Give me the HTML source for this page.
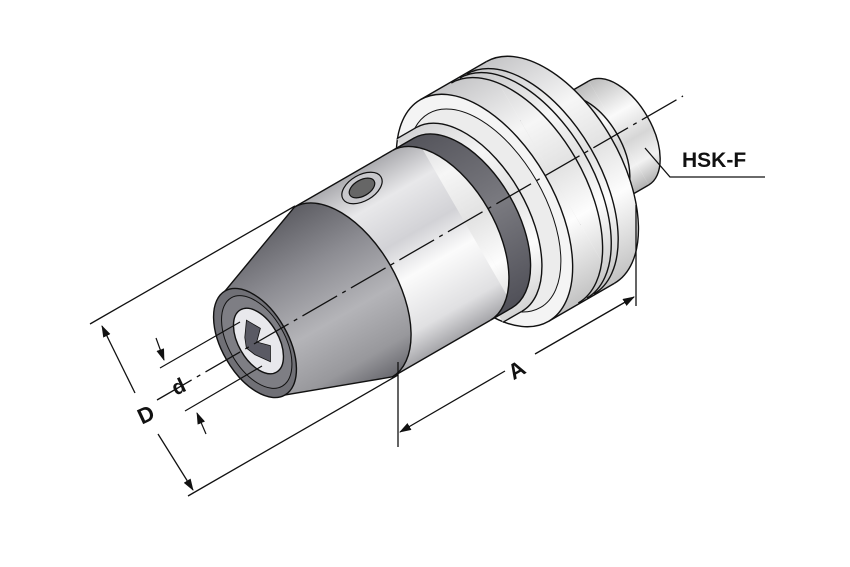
<!DOCTYPE html>
<html><head><meta charset="utf-8"><style>
html,body{margin:0;padding:0;background:#fff;width:850px;height:567px;overflow:hidden}
</style></head><body>
<svg width="850" height="567" viewBox="0 0 850 567" xmlns="http://www.w3.org/2000/svg">
<defs>
<linearGradient id="gB" x1="0" y1="-100" x2="0" y2="100" gradientUnits="userSpaceOnUse">
<stop offset="0" stop-color="#a8a8ac"/><stop offset="0.2" stop-color="#e8e8ea"/><stop offset="0.42" stop-color="#d2d2d6"/><stop offset="0.6" stop-color="#fbfbfb"/><stop offset="0.85" stop-color="#e0e0e2"/><stop offset="1" stop-color="#a0a0a4"/>
</linearGradient>
<linearGradient id="gF" x1="0" y1="-130" x2="0" y2="130" gradientUnits="userSpaceOnUse">
<stop offset="0" stop-color="#c4c4c6"/><stop offset="0.3" stop-color="#f6f6f6"/><stop offset="0.5" stop-color="#e2e2e2"/><stop offset="0.7" stop-color="#fdfdfd"/><stop offset="1" stop-color="#c0c0c0"/>
</linearGradient>
<linearGradient id="gH" x1="0" y1="-60" x2="0" y2="60" gradientUnits="userSpaceOnUse">
<stop offset="0" stop-color="#bbb"/><stop offset="0.35" stop-color="#fafafa"/><stop offset="0.6" stop-color="#d6d6d6"/><stop offset="0.8" stop-color="#f2f2f2"/><stop offset="1" stop-color="#b0b0b0"/>
</linearGradient>
<linearGradient id="gC" x1="0" y1="-98" x2="0" y2="98" gradientUnits="userSpaceOnUse">
<stop offset="0" stop-color="#5e5e64"/><stop offset="0.3" stop-color="#8c8c92"/><stop offset="0.6" stop-color="#b4b4b8"/><stop offset="0.85" stop-color="#98989c"/><stop offset="1" stop-color="#6a6a70"/>
</linearGradient>
<linearGradient id="gD" x1="0" y1="-98" x2="0" y2="98" gradientUnits="userSpaceOnUse">
<stop offset="0" stop-color="#55555c"/><stop offset="0.5" stop-color="#7a7a80"/><stop offset="1" stop-color="#505058"/>
</linearGradient>
<marker id="ar" markerWidth="12" markerHeight="8" refX="11" refY="4" orient="auto" markerUnits="userSpaceOnUse"><path d="M0,0 L12,4 L0,8 z" fill="#111"/></marker>
</defs>

<g transform="translate(255,343) rotate(-30)" stroke="#111" stroke-width="1.4">
  <!-- HSK shank -->
  <rect x="330" y="-60" width="90" height="120" fill="url(#gH)" stroke="none"/>
  <line x1="330" y1="-60" x2="420" y2="-60"/>
  <line x1="330" y1="60" x2="420" y2="60"/>
  <path d="M420,-60 A33,60 0 0 1 420,60" fill="url(#gH)"/>
  <path d="M385,-60 A33,60 0 0 1 385,60" fill="none"/>
  <!-- flange -->
  <rect x="265" y="-128" width="76" height="256" fill="url(#gF)" stroke="none"/>
  <line x1="265" y1="-128" x2="341" y2="-128"/>
  <line x1="265" y1="128" x2="341" y2="128"/>
  <path d="M341,-128 A70,128 0 0 1 341,128" fill="url(#gF)"/>
  <path d="M300,-127 A70,127 0 0 1 300,127" fill="none"/>
  <path d="M310,-127 A70,127 0 0 1 310,127" fill="none"/>
  <path d="M318,-127 A70,127 0 0 1 318,127" fill="none"/>
  <ellipse cx="265" cy="0" rx="70" ry="128" fill="#f4f4f4"/>
  <ellipse cx="265" cy="0" rx="60" ry="112" fill="#ececec" stroke-width="1"/>
  <!-- collar -->
  <rect x="225" y="-106" width="22" height="212" fill="url(#gF)" stroke="none"/>
  <line x1="225" y1="-106" x2="247" y2="-106"/>
  <line x1="225" y1="106" x2="247" y2="106"/>
  <path d="M247,-106 A58,106 0 0 1 247,106" fill="url(#gF)"/>
  <!-- body -->
  <rect x="102" y="-98" width="140" height="196" fill="url(#gB)" stroke="none"/>
  <line x1="102" y1="-98" x2="215" y2="-98"/>
  <line x1="102" y1="98" x2="215" y2="98"/>
  <path d="M215,-98 L240,-98 A54,98 0 0 1 240,98 L215,98 A54,98 0 0 0 215,-98 Z" fill="url(#gD)"/>
  <!-- cone -->
  <path d="M0,-60 L102,-98 A54,98 0 0 1 102,98 L0,60 Z" fill="url(#gC)"/>
  <ellipse cx="0" cy="0" rx="33" ry="60" fill="#707076"/>
  <ellipse cx="2" cy="0" rx="28" ry="51" fill="#7e7e84" stroke-width="1"/>
  <ellipse cx="4" cy="0" rx="20" ry="36" fill="#e8e8ec"/>
  <path d="M4,-24 L12,-10 L2,0 L12,10 L4,24 L-6,10 L-10,0 L-6,-10 Z" fill="#5a5a64" stroke-width="0.8"/>
</g>
<!-- screw -->
<g transform="rotate(-30 362 188)" stroke="#111" stroke-width="1.2">
  <ellipse cx="362" cy="188" rx="22" ry="13" fill="#c8c8cc"/>
  <ellipse cx="362" cy="188" rx="14" ry="8" fill="#666"/>
</g>

<!-- centerline -->
<line x1="157" y1="400" x2="683" y2="96" stroke="#111" stroke-width="1.3" stroke-dasharray="40,6,4,6"/>

<!-- D dimension -->
<line x1="90" y1="324" x2="295" y2="206" stroke="#111" stroke-width="1.3"/>
<line x1="188" y1="496" x2="398" y2="375" stroke="#111" stroke-width="1.3"/>
<line x1="135" y1="393" x2="102" y2="326" stroke="#111" stroke-width="1.3" marker-end="url(#ar)"/>
<line x1="158" y1="434" x2="193" y2="490" stroke="#111" stroke-width="1.3" marker-end="url(#ar)"/>
<text x="137" y="421" font-family="Liberation Sans, sans-serif" font-weight="bold" font-size="22" fill="#111" transform="rotate(-25 148 412)">D</text>
<!-- d dimension -->
<line x1="160" y1="368" x2="240" y2="322" stroke="#111" stroke-width="1.2"/>
<line x1="185" y1="411" x2="262" y2="366" stroke="#111" stroke-width="1.2"/>
<line x1="156" y1="338" x2="164" y2="360" stroke="#111" stroke-width="1.2" marker-end="url(#ar)"/>
<line x1="206" y1="434" x2="197" y2="413" stroke="#111" stroke-width="1.2" marker-end="url(#ar)"/>
<text x="172" y="393" font-family="Liberation Sans, sans-serif" font-weight="bold" font-size="21" fill="#111" transform="rotate(-25 180 386)">d</text>

<!-- A dimension -->
<line x1="398" y1="362" x2="398" y2="447" stroke="#111" stroke-width="1.3"/>
<line x1="636" y1="205" x2="636" y2="306" stroke="#111" stroke-width="1.3"/>
<line x1="505" y1="371" x2="400" y2="432" stroke="#111" stroke-width="1.3" marker-end="url(#ar)"/>
<line x1="535" y1="354" x2="634" y2="297" stroke="#111" stroke-width="1.3" marker-end="url(#ar)"/>
<text x="508" y="376" font-family="Liberation Sans, sans-serif" font-weight="bold" font-size="22" fill="#111" transform="rotate(-30 519 368)">A</text>

<!-- HSK-F -->
<polyline points="645,148 670,177 765,177" fill="none" stroke="#111" stroke-width="1.3"/>
<text x="682" y="167" font-family="Liberation Sans, sans-serif" font-weight="bold" font-size="21" fill="#111">HSK-F</text>
</svg>
</body></html>
